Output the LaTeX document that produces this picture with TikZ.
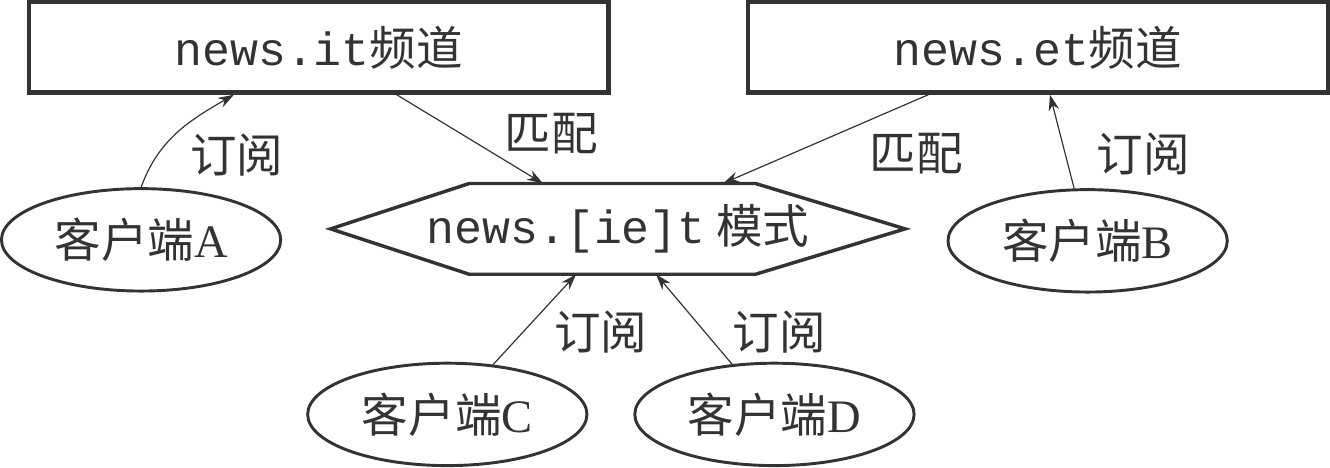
\documentclass[tikz,border=0pt]{standalone}
\usepackage{fontspec}
\setmainfont{Liberation Serif}
\setmonofont{Liberation Mono}
\newfontfamily\cjk{Noto Sans CJK SC}
\usetikzlibrary{arrows.meta,shapes.geometric,calc}
\definecolor{ink}{RGB}{51,51,51}

\begin{document}
\begin{tikzpicture}[x=0.75pt,y=0.75pt,yscale=-1,xscale=1,
  every node/.style={text=ink,font=\fontsize{35}{42}\selectfont,inner sep=0pt},
  chan/.style={draw=ink,line width=3.2pt,minimum width=436pt,minimum height=68pt},
  client/.style={ellipse,draw=ink,line width=2.2pt,minimum width=210pt,minimum height=77pt},
  pattern/.style={minimum height=68pt},
  hexline/.style={draw=ink,line width=2.6pt,line join=miter},
  link/.style={draw=ink,line width=0.9pt,-{Stealth[length=12pt,width=8pt]}}
]
\path (0,0) rectangle (1330,466); %set diagram size

%Shape: Rectangle
\node [chan] (it) at (316,45) {\ttfamily news.it\cjk 频道};
%Shape: Rectangle
\node [chan] (et) at (1037,45) {\ttfamily news.et\cjk 频道};
%Shape: Hexagon
\node [pattern] (pat) at (616,227) {{\ttfamily news.[ie]t}\cjk{} 模式};
\draw [hexline] ($(pat.center)+(-288,0)$) -- ++(139,-45.5) -- ++(287,0) -- ++(150,45.5)
  -- ++(-150,45.5) -- ++(-287,0) -- cycle;
%Shape: Ellipse
\node [client] (A) at (138,238) {{\cjk 客户端}A};
%Shape: Ellipse
\node [client] (B) at (1087,239) {{\cjk 客户端}B};
%Shape: Ellipse
\node [client] (C) at (445,413) {{\cjk 客户端}C};
%Shape: Ellipse
\node [client] (D) at (773,413) {{\cjk 客户端}D};

%Curve Lines
\draw [link] (A.north) to[out=-70,in=150] ($(it.south west)!0.355!(it.south east)$);
%Straight Lines
\draw [link] (it) -- (pat);
\draw [link] (et) -- (pat);
\draw [link] (B) -- (et);
\draw [link] (C) -- (pat);
\draw [link] (D) -- (pat);

% Text Node
\node (subA) at (234,153) {\cjk 订阅};
\node (matchL) at (549,132) {\cjk 匹配};
\node (matchR) at (915,152) {\cjk 匹配};
\node (subB) at (1143,152) {\cjk 订阅};
\node (subC) at (599,330) {\cjk 订阅};
\node (subD) at (778,330) {\cjk 订阅};

\end{tikzpicture}
\end{document}
